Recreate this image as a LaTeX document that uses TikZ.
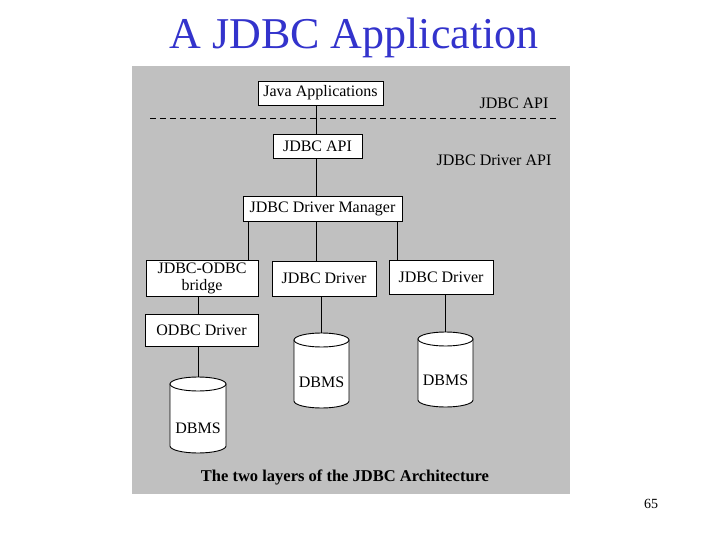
\documentclass[tikz,border=0pt]{standalone}
\usepackage{fontspec}
\setmainfont{Liberation Serif}
\definecolor{panel}{HTML}{C0C0C0}
\definecolor{titleblue}{HTML}{3333CC}
\tikzset{
  box/.style={draw=black, fill=white, line width=0.9pt, inner sep=0pt, align=center,
    font=\fontsize{16}{17}\selectfont},
  lbl/.style={inner sep=0pt, font=\fontsize{16}{17}\selectfont},
  wire/.style={draw=black, line width=0.9pt},
  cyl/.style={draw=black, fill=white, line width=0.9pt}
}
\newcommand{\dbcyl}[5]{% x, top-centre y, bottom-centre y, half width, name
  \filldraw[cyl] (#1-#4,#2) -- (#1-#4,#3) arc[start angle=180,end angle=360,x radius=#4pt,y radius=7pt] -- (#1+#4,#2) -- cycle;
  \filldraw[cyl] (#1,#2) ellipse [x radius=#4pt, y radius=7pt];
  \coordinate (#5) at (#1,#2-7);
}
\begin{document}
\begin{tikzpicture}[x=1pt,y=-1pt]
\useasboundingbox (0,0) rectangle (720,540);
\fill[white] (0,0) rectangle (720,540);
\node[text=titleblue, font=\fontsize{44}{48}\selectfont, inner sep=0pt] (title) at (354,38) {A JDBC Application};
\fill[panel] (132,66) rectangle (570,494);

% boxes
\node[box, minimum width=125pt, minimum height=24pt] (java) at (320.5,93) {Java Applications};
\node[box, minimum width=89pt, minimum height=24pt] (api) at (317.5,146) {JDBC API};
\node[box, minimum width=159pt, minimum height=25pt] (mgr) at (322.5,208.5) {JDBC Driver Manager};
\node[box, minimum width=112pt, minimum height=36pt] (bridge) at (202,278) {JDBC-ODBC\\bridge};
\node[box, minimum width=104pt, minimum height=35pt] (drv2) at (324,278.5) {JDBC Driver};
\node[box, minimum width=104pt, minimum height=34pt] (drv3) at (441,277) {JDBC Driver};
\node[box, minimum width=113pt, minimum height=32pt] (odbc) at (201.5,330) {ODBC Driver};

% labels
\node[lbl] (lapi) at (514,103) {JDBC API};
\node[lbl] (ldrvapi) at (494,160) {JDBC Driver API};
\draw[black, line width=0.9pt, dash pattern=on 6pt off 4pt] (150,118) -- (556,118);

% cylinders
\dbcyl{198}{384}{446}{28}{db1}
\dbcyl{321.5}{340}{401}{27.5}{db2}
\dbcyl{445.5}{339}{400}{27.5}{db3}
\node[lbl] (t1) at (198,428) {DBMS};
\node[lbl] (t2) at (321.5,382) {DBMS};
\node[lbl] (t3) at (445.5,380) {DBMS};

% connectors
\coordinate (c1) at (316,0);
\draw[wire] (java.south -| c1) -- (api.north -| c1);
\draw[wire] (api.south -| c1) -- (mgr.north -| c1);
\coordinate (m1) at (248,0);
\coordinate (m3) at (397,0);
\draw[wire] (mgr.south -| m1) -- (bridge.north -| m1);
\draw[wire] (mgr.south -| c1) -- (drv2.north -| c1);
\draw[wire] (mgr.south -| m3) -- (drv3.north -| m3);
\draw[wire] (bridge.south -| db1) -- (odbc.north -| db1);
\draw[wire] (odbc.south -| db1) -- (db1);
\draw[wire] (drv2.south -| db2) -- (db2);
\draw[wire] (drv3.south -| db3) -- (db3);

\node[inner sep=0pt, font=\bfseries\fontsize{16.5}{18}\selectfont] (cap) at (345,477) {The two layers of the JDBC Architecture};
\node[inner sep=0pt, font=\fontsize{14}{16}\selectfont] (pg) at (651,504) {65};
\end{tikzpicture}
\end{document}
